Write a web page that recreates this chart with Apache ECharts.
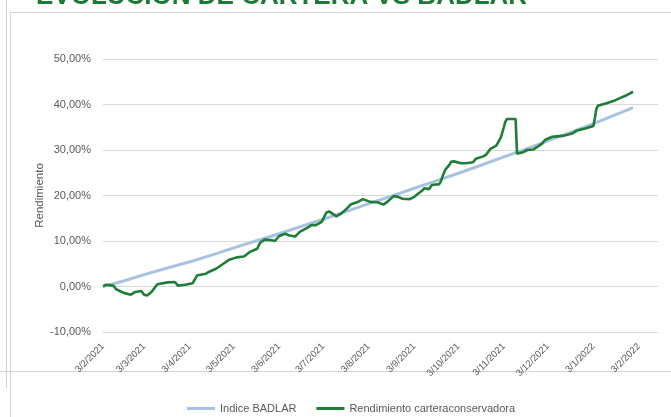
<!DOCTYPE html>
<html>
<head>
<meta charset="utf-8">
<script src="https://cdn.jsdelivr.net/npm/echarts@6/dist/echarts.min.js"></script>
<style>
  html, body { margin: 0; padding: 0; background: #fff; }
  #chart { width: 671px; height: 417px; }
</style>
</head>
<body>
<div id="chart"></div>
<script>
// fechas de etiqueta del eje x (d/m/aaaa)
const tickDates = ['2021-02-03', '2021-03-03', '2021-04-03', '2021-05-03', '2021-06-03', '2021-07-03',
    '2021-08-03', '2021-09-03', '2021-10-03', '2021-11-03', '2021-12-03', '2022-01-03', '2022-02-03'];

// Indice BADLAR
const badlarDates = ['2021-02-03', '2021-02-17', '2021-03-03', '2021-03-17', '2021-04-05', '2021-04-19',
    '2021-05-03', '2021-05-17', '2021-06-03', '2021-06-17', '2021-07-05', '2021-07-19', '2021-08-03',
    '2021-08-17', '2021-09-03', '2021-09-17', '2021-10-04', '2021-10-18', '2021-11-03', '2021-11-17',
    '2021-12-03', '2021-12-17', '2022-01-03', '2022-01-17', '2022-01-30'];
const badlarValues = [0.0, 1.2, 2.6, 3.9, 5.6, 7.0, 8.5, 9.9, 11.6, 13.1, 15.0, 16.5, 18.2,
    19.7, 21.6, 23.1, 25.0, 26.6, 28.5, 30.1, 32.0, 33.7, 35.8, 37.6, 39.3];

// Rendimiento cartera conservadora
const carteraDates = ['2021-02-03', '2021-02-05', '2021-02-10', '2021-02-12', '2021-02-17', '2021-02-22',
    '2021-02-25', '2021-03-01', '2021-03-03', '2021-03-05', '2021-03-08', '2021-03-12', '2021-03-19',
    '2021-03-24', '2021-03-26', '2021-03-31', '2021-04-05', '2021-04-08', '2021-04-14', '2021-04-16',
    '2021-04-21', '2021-04-26', '2021-04-30', '2021-05-05', '2021-05-10', '2021-05-14', '2021-05-19',
    '2021-05-21', '2021-05-24', '2021-05-28', '2021-05-31', '2021-06-03', '2021-06-07', '2021-06-10',
    '2021-06-14', '2021-06-17', '2021-06-22', '2021-06-25', '2021-06-28', '2021-07-02', '2021-07-05',
    '2021-07-07', '2021-07-12', '2021-07-15', '2021-07-19', '2021-07-22', '2021-07-26', '2021-07-30',
    '2021-08-04', '2021-08-09', '2021-08-13', '2021-08-16', '2021-08-20', '2021-08-23', '2021-08-26',
    '2021-08-31', '2021-09-03', '2021-09-06', '2021-09-08', '2021-09-10', '2021-09-13', '2021-09-15',
    '2021-09-20', '2021-09-21', '2021-09-22', '2021-09-24', '2021-09-27', '2021-09-28', '2021-09-30',
    '2021-10-01', '2021-10-05', '2021-10-08', '2021-10-13', '2021-10-15', '2021-10-20', '2021-10-22',
    '2021-10-25', '2021-10-27', '2021-10-29', '2021-11-01', '2021-11-03', '2021-11-04', '2021-11-05',
    '2021-11-09', '2021-11-11', '2021-11-12', '2021-11-16', '2021-11-19', '2021-11-23', '2021-11-25',
    '2021-11-29', '2021-12-01', '2021-12-06', '2021-12-09', '2021-12-13', '2021-12-17', '2021-12-20',
    '2021-12-23', '2021-12-29', '2022-01-03', '2022-01-04', '2022-01-05', '2022-01-06', '2022-01-12',
    '2022-01-17', '2022-01-21', '2022-01-26', '2022-01-30'];
const carteraValues = [0.0, 0.4, 0.2, -0.6, -1.4, -1.8,
    -1.2, -1.0, -1.8, -2.0, -1.2, 0.5, 0.9,
    1.0, 0.2, 0.4, 0.7, 2.4, 2.8, 3.2,
    3.9, 5.0, 5.9, 6.4, 6.6, 7.6, 8.3,
    9.6, 10.3, 10.2, 10.0, 11.1, 11.6, 11.2,
    11.0, 12.0, 12.9, 13.5, 13.5, 14.2, 16.2,
    16.5, 15.4, 16.0, 17.1, 18.1, 18.5, 19.2,
    18.6, 18.5, 18.0, 18.7, 19.9, 19.7, 19.3,
    19.2, 19.7, 20.5, 21.0, 21.6, 21.4, 22.3,
    22.5, 23.0, 24.0, 25.6, 26.8, 27.4, 27.5,
    27.1, 27.1, 27.1, 27.3, 28.1, 28.6, 29.0,
    30.3, 30.6, 31.0, 32.8, 35.0, 36.2, 36.8,
    36.8, 36.8, 29.2, 29.5, 30.0, 30.1, 30.5,
    31.4, 32.2, 32.9, 33.0, 33.1, 33.4, 33.7,
    34.3, 34.8, 35.3, 37.0, 39.0, 39.7, 40.3,
    40.8, 41.4, 42.1, 42.8];

const ts = s => { const p = s.split('-'); return new Date(+p[0], +p[1] - 1, +p[2]).getTime(); };
const pairs = (dates, vals) => dates.map((d, i) => [ts(d), vals[i]]);
const fmtDate = v => {
    const d = new Date(v);
    return d.getDate() + '/' + (d.getMonth() + 1) + '/' + d.getFullYear();
};
const grayLine = { stroke: '#d4d4d4', lineWidth: 1 };
const labelFont = '"Liberation Sans", Arial, sans-serif';

const chart = echarts.init(document.getElementById('chart'));
chart.setOption({
    animation: false,
    textStyle: { fontFamily: labelFont },
    graphic: [
        { type: 'line', z: -1, shape: { x1: 6.5, y1: 0, x2: 6.5, y2: 388 }, style: grayLine },
        { type: 'line', z: -1, shape: { x1: 10.5, y1: 12, x2: 10.5, y2: 417 }, style: grayLine },
        { type: 'line', z: -1, shape: { x1: 10, y1: 12.5, x2: 671, y2: 12.5 }, style: grayLine },
        { type: 'line', z: -1, shape: { x1: 0, y1: 371.5, x2: 671, y2: 371.5 }, style: grayLine },
        {
            type: 'text', left: 36, top: -16,
            style: {
                text: 'EVOLUCIÓN DE CARTERA VS BADLAR',
                font: 'bold 26px "Liberation Sans", Arial, sans-serif',
                fill: '#1b7a33'
            }
        }
    ],
    grid: { left: 103, right: 13, top: 59, bottom: 85, outerBoundsMode: 'none' },
    legend: {
        top: 398,
        left: 182,
        itemGap: 20,
        itemWidth: 28,
        itemHeight: 3,
        icon: 'rect',
        textStyle: { color: '#595959', fontSize: 11 },
        data: ['Indice BADLAR', 'Rendimiento carteraconservadora']
    },
    xAxis: {
        type: 'value',
        min: ts('2021-02-03'),
        max: ts('2022-02-16'),
        axisLine: { show: true, onZero: false, lineStyle: { color: '#d9d9d9' } },
        axisTick: { show: false },
        splitLine: { show: false },
        axisLabel: {
            customValues: tickDates.map(ts),
            formatter: fmtDate,
            rotate: 45,
            margin: 13,
            hideOverlap: false,
            showMinLabel: true,
            showMaxLabel: true,
            color: '#595959',
            fontSize: 9.5
        }
    },
    yAxis: {
        type: 'value',
        min: -10,
        max: 50,
        interval: 10,
        name: 'Rendimiento',
        nameLocation: 'middle',
        nameGap: 57,
        nameMoveOverlap: false,
        nameTextStyle: { color: '#595959', fontSize: 11.5 },
        axisLine: { show: false },
        axisTick: { show: false },
        splitLine: { lineStyle: { color: '#d9d9d9' } },
        axisLabel: {
            color: '#595959',
            fontSize: 11,
            margin: 12,
            formatter: v => v.toFixed(2).replace('.', ',') + '%'
        }
    },
    series: [
        {
            name: 'Indice BADLAR',
            type: 'line',
            showSymbol: false,
            data: pairs(badlarDates, badlarValues),
            itemStyle: { color: '#a8c3e2' },
            lineStyle: { color: '#a8c3e2', width: 3 }
        },
        {
            name: 'Rendimiento carteraconservadora',
            type: 'line',
            showSymbol: false,
            data: pairs(carteraDates, carteraValues),
            itemStyle: { color: '#1e7d36' },
            lineStyle: { color: '#1e7d36', width: 2.6 }
        }
    ]
});
</script>
</body>
</html>
